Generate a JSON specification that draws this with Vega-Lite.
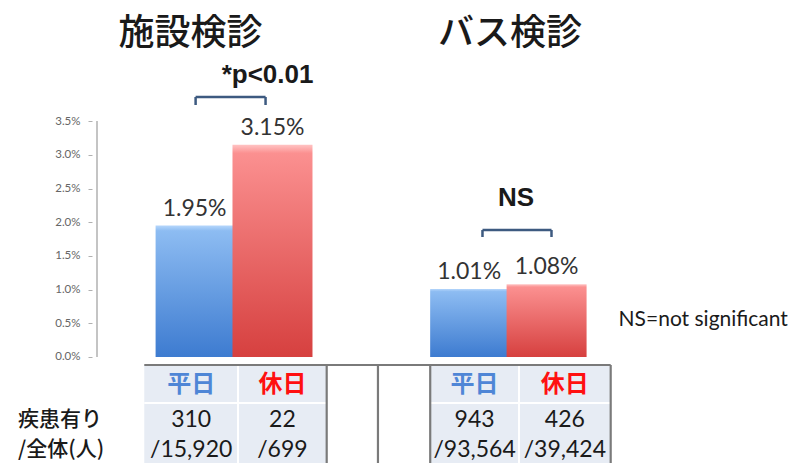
{
  "$schema": "https://vega.github.io/schema/vega-lite/v6.json",
  "width": 711,
  "height": 463,
  "padding": {"left": 92, "top": 0, "right": 0, "bottom": 0},
  "autosize": {"type": "none"},
  "background": "white",
  "config": {"view": {"stroke": null}},
  "resolve": {"axis": {"x": "independent", "y": "independent"}},
  "datasets": {
    "bars": [
      {"g": "施設検診", "day": "平日", "pos": 1, "rate": 1.95, "label": "1.95%"},
      {"g": "施設検診", "day": "休日", "pos": 2, "rate": 3.15, "label": "3.15%"},
      {"g": "バス検診", "day": "平日", "pos": 4.525, "rate": 1.01, "label": "1.01%"},
      {"g": "バス検診", "day": "休日", "pos": 5.519, "rate": 1.08, "label": "1.08%"}
    ],
    "titles": [
      {"t": "施設検診", "x": 0.949, "y": 4.79},
      {"t": "バス検診", "x": 5.05, "y": 4.79}
    ],
    "sig": [
      {"t": "*p<0.01", "x": 1.937, "y": 4.184},
      {"t": "NS", "x": 5.127, "y": 2.359}
    ],
    "brackets": [
      {"xa": 1.013, "xb": 1.911, "yt": 3.858, "yb": 3.739},
      {"xa": 4.696, "xb": 5.582, "yt": 1.884, "yb": 1.78}
    ],
    "note": [{"t": "NS=not significant", "x": 6.443, "y": 0.549}],
    "cells": [
      {"xa": 0.354, "xb": 2.696, "ya": -0.1187, "yb": -1.573},
      {"xa": 4.025, "xb": 6.342, "ya": -0.1187, "yb": -1.573}
    ],
    "lightLines": [
      {"xa": 1.557, "xb": 1.557, "ya": -0.1187, "yb": -1.573},
      {"xa": 5.165, "xb": 5.165, "ya": -0.1187, "yb": -1.573},
      {"xa": 0.354, "xb": 2.696, "ya": -0.682, "yb": -0.682},
      {"xa": 4.025, "xb": 6.342, "ya": -0.682, "yb": -0.682}
    ],
    "darkLines": [
      {"xa": 0.354, "xb": 6.342, "ya": -0.1187, "yb": -0.1187},
      {"xa": 2.696, "xb": 2.696, "ya": -0.1187, "yb": -1.573},
      {"xa": 3.354, "xb": 3.354, "ya": -0.1187, "yb": -1.573},
      {"xa": 4.025, "xb": 4.025, "ya": -0.1187, "yb": -1.573},
      {"xa": 6.342, "xb": 6.342, "ya": -0.1187, "yb": -1.573}
    ],
    "axisLine": [{"x": -0.253, "ya": 0, "yb": 3.5}],
    "header": [
      {"t": "平日", "x": 0.956, "y": -0.415, "c": "wd"},
      {"t": "休日", "x": 2.127, "y": -0.415, "c": "hd"},
      {"t": "平日", "x": 4.595, "y": -0.415, "c": "wd"},
      {"t": "休日", "x": 5.753, "y": -0.415, "c": "hd"}
    ],
    "body": [
      {"t": "310", "x": 0.956, "y": -0.935},
      {"t": "/15,920", "x": 0.956, "y": -1.38},
      {"t": "22", "x": 2.127, "y": -0.935},
      {"t": "/699", "x": 2.127, "y": -1.38},
      {"t": "943", "x": 4.595, "y": -0.935},
      {"t": "/93,564", "x": 4.595, "y": -1.38},
      {"t": "426", "x": 5.753, "y": -0.935},
      {"t": "/39,424", "x": 5.753, "y": -1.38}
    ],
    "rowLabels": [
      {"t": "疾患有り", "x": -1.266, "y": -0.935},
      {"t": "/全体(人)", "x": -1.266, "y": -1.38}
    ]
  },
  "layer": [
    {
      "data": {"name": "axisLine"},
      "mark": {"type": "rule", "color": "#b0b0b0", "strokeWidth": 1.5},
      "encoding": {
        "x": {"field": "x", "type": "quantitative", "scale": {"domain": [-0.253, 8.7468], "nice": false, "zero": false}, "axis": null},
        "y": {"field": "ya", "type": "quantitative", "scale": {"domain": [-1.573, 5.297], "nice": false, "zero": false},
          "axis": {"values": [0, 0.5, 1, 1.5, 2, 2.5, 3, 3.5], "format": ".1f", "labelExpr": "datum.label + '%'", "domain": false, "grid": false, "ticks": true, "tickSize": 4, "tickColor": "#b0b0b0", "labelFont": "Lato", "labelFontSize": 11.5, "labelColor": "#666666", "labelPadding": 8, "title": null}},
        "y2": {"field": "yb"}
      }
    },
    {
      "data": {"name": "cells"},
      "mark": {"type": "rect", "fill": "#e7ecf4"},
      "encoding": {
        "x": {"field": "xa", "type": "quantitative", "scale": {"domain": [-0.253, 8.7468], "nice": false, "zero": false}, "axis": null},
        "x2": {"field": "xb"},
        "y": {"field": "ya", "type": "quantitative", "scale": {"domain": [-1.573, 5.297], "nice": false, "zero": false}, "axis": null},
        "y2": {"field": "yb"}
      }
    },
    {
      "data": {"name": "lightLines"},
      "mark": {"type": "rule", "color": "#ffffff", "strokeWidth": 2},
      "encoding": {
        "x": {"field": "xa", "type": "quantitative", "scale": {"domain": [-0.253, 8.7468], "nice": false, "zero": false}, "axis": null},
        "x2": {"field": "xb"},
        "y": {"field": "ya", "type": "quantitative", "scale": {"domain": [-1.573, 5.297], "nice": false, "zero": false}, "axis": null},
        "y2": {"field": "yb"}
      }
    },
    {
      "data": {"name": "darkLines"},
      "mark": {"type": "rule", "color": "#7a7a7a", "strokeWidth": 2.2},
      "encoding": {
        "x": {"field": "xa", "type": "quantitative", "scale": {"domain": [-0.253, 8.7468], "nice": false, "zero": false}, "axis": null},
        "x2": {"field": "xb"},
        "y": {"field": "ya", "type": "quantitative", "scale": {"domain": [-1.573, 5.297], "nice": false, "zero": false}, "axis": null},
        "y2": {"field": "yb"}
      }
    },
    {
      "data": {"name": "bars"},
      "transform": [{"filter": "datum.day === '平日'"}],
      "mark": {"type": "bar", "size": 78, "color": {"gradient": "linear", "x1": 0, "y1": 0, "x2": 0, "y2": 1, "stops": [{"offset": 0, "color": "#b5d6fb"}, {"offset": 0.04, "color": "#8dbcf2"}, {"offset": 1, "color": "#3d7bd0"}]}},
      "encoding": {
        "x": {"field": "pos", "type": "quantitative", "scale": {"domain": [-0.253, 8.7468], "nice": false, "zero": false}, "axis": null},
        "y": {"field": "rate", "type": "quantitative", "scale": {"domain": [-1.573, 5.297], "nice": false, "zero": false}, "axis": null}
      }
    },
    {
      "data": {"name": "bars"},
      "transform": [{"filter": "datum.day === '休日'"}],
      "mark": {"type": "bar", "size": 80, "color": {"gradient": "linear", "x1": 0, "y1": 0, "x2": 0, "y2": 1, "stops": [{"offset": 0, "color": "#ffc4c4"}, {"offset": 0.04, "color": "#fb9090"}, {"offset": 1, "color": "#d6403f"}]}},
      "encoding": {
        "x": {"field": "pos", "type": "quantitative", "scale": {"domain": [-0.253, 8.7468], "nice": false, "zero": false}, "axis": null},
        "y": {"field": "rate", "type": "quantitative", "scale": {"domain": [-1.573, 5.297], "nice": false, "zero": false}, "axis": null}
      }
    },
    {
      "data": {"name": "bars"},
      "mark": {"type": "text", "font": "Lato", "fontSize": 23, "color": "#333333", "baseline": "bottom", "dy": -5},
      "encoding": {
        "x": {"field": "pos", "type": "quantitative", "scale": {"domain": [-0.253, 8.7468], "nice": false, "zero": false}, "axis": null},
        "y": {"field": "rate", "type": "quantitative", "scale": {"domain": [-1.573, 5.297], "nice": false, "zero": false}, "axis": null},
        "text": {"field": "label"}
      }
    },
    {
      "data": {"name": "brackets"},
      "mark": {"type": "rule", "color": "#3d5a80", "strokeWidth": 2.5},
      "encoding": {
        "x": {"field": "xa", "type": "quantitative", "scale": {"domain": [-0.253, 8.7468], "nice": false, "zero": false}, "axis": null},
        "x2": {"field": "xb"},
        "y": {"field": "yt", "type": "quantitative", "scale": {"domain": [-1.573, 5.297], "nice": false, "zero": false}, "axis": null}
      }
    },
    {
      "data": {"name": "brackets"},
      "mark": {"type": "rule", "color": "#3d5a80", "strokeWidth": 2.5},
      "encoding": {
        "x": {"field": "xa", "type": "quantitative", "scale": {"domain": [-0.253, 8.7468], "nice": false, "zero": false}, "axis": null},
        "y": {"field": "yt", "type": "quantitative", "scale": {"domain": [-1.573, 5.297], "nice": false, "zero": false}, "axis": null},
        "y2": {"field": "yb"}
      }
    },
    {
      "data": {"name": "brackets"},
      "mark": {"type": "rule", "color": "#3d5a80", "strokeWidth": 2.5},
      "encoding": {
        "x": {"field": "xb", "type": "quantitative", "scale": {"domain": [-0.253, 8.7468], "nice": false, "zero": false}, "axis": null},
        "y": {"field": "yt", "type": "quantitative", "scale": {"domain": [-1.573, 5.297], "nice": false, "zero": false}, "axis": null},
        "y2": {"field": "yb"}
      }
    },
    {
      "data": {"name": "titles"},
      "mark": {"type": "text", "font": "Noto Sans CJK JP", "fontSize": 36, "fontWeight": 500, "color": "#1a1a1a", "baseline": "middle"},
      "encoding": {
        "x": {"field": "x", "type": "quantitative", "scale": {"domain": [-0.253, 8.7468], "nice": false, "zero": false}, "axis": null},
        "y": {"field": "y", "type": "quantitative", "scale": {"domain": [-1.573, 5.297], "nice": false, "zero": false}, "axis": null},
        "text": {"field": "t"}
      }
    },
    {
      "data": {"name": "sig"},
      "mark": {"type": "text", "font": "Liberation Sans", "fontSize": 26, "fontWeight": "bold", "color": "#1a1a1a", "baseline": "middle"},
      "encoding": {
        "x": {"field": "x", "type": "quantitative", "scale": {"domain": [-0.253, 8.7468], "nice": false, "zero": false}, "axis": null},
        "y": {"field": "y", "type": "quantitative", "scale": {"domain": [-1.573, 5.297], "nice": false, "zero": false}, "axis": null},
        "text": {"field": "t"}
      }
    },
    {
      "data": {"name": "note"},
      "mark": {"type": "text", "font": "Lato", "fontSize": 21, "color": "#1a1a1a", "baseline": "middle", "align": "left"},
      "encoding": {
        "x": {"field": "x", "type": "quantitative", "scale": {"domain": [-0.253, 8.7468], "nice": false, "zero": false}, "axis": null},
        "y": {"field": "y", "type": "quantitative", "scale": {"domain": [-1.573, 5.297], "nice": false, "zero": false}, "axis": null},
        "text": {"field": "t"}
      }
    },
    {
      "data": {"name": "header"},
      "mark": {"type": "text", "font": "Noto Sans CJK JP", "fontSize": 24, "fontWeight": "bold", "baseline": "middle"},
      "encoding": {
        "x": {"field": "x", "type": "quantitative", "scale": {"domain": [-0.253, 8.7468], "nice": false, "zero": false}, "axis": null},
        "y": {"field": "y", "type": "quantitative", "scale": {"domain": [-1.573, 5.297], "nice": false, "zero": false}, "axis": null},
        "text": {"field": "t"},
        "color": {"field": "c", "type": "nominal", "scale": {"domain": ["wd", "hd"], "range": ["#4f86d6", "#ff1010"]}, "legend": null}
      }
    },
    {
      "data": {"name": "body"},
      "mark": {"type": "text", "font": "Lato", "fontSize": 23, "color": "#1a1a1a", "baseline": "middle"},
      "encoding": {
        "x": {"field": "x", "type": "quantitative", "scale": {"domain": [-0.253, 8.7468], "nice": false, "zero": false}, "axis": null},
        "y": {"field": "y", "type": "quantitative", "scale": {"domain": [-1.573, 5.297], "nice": false, "zero": false}, "axis": null},
        "text": {"field": "t"}
      }
    },
    {
      "data": {"name": "rowLabels"},
      "mark": {"type": "text", "font": "Noto Sans CJK JP", "fontSize": 21, "fontWeight": 500, "color": "#1a1a1a", "baseline": "middle", "align": "left"},
      "encoding": {
        "x": {"field": "x", "type": "quantitative", "scale": {"domain": [-0.253, 8.7468], "nice": false, "zero": false}, "axis": null},
        "y": {"field": "y", "type": "quantitative", "scale": {"domain": [-1.573, 5.297], "nice": false, "zero": false}, "axis": null},
        "text": {"field": "t"}
      }
    }
  ]
}
